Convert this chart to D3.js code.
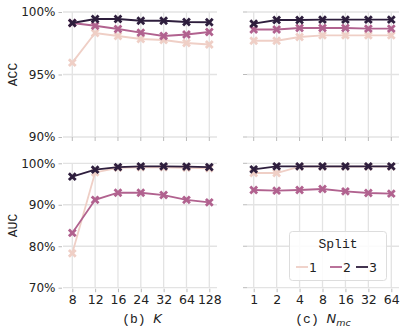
<!DOCTYPE html>
<html><head><meta charset="utf-8">
<script src="https://cdn.jsdelivr.net/npm/d3@7"></script>
<style>body{margin:0;background:#fff}svg{display:block}</style>
</head><body><svg id="c" width="407" height="335"></svg>
<script>
const kTicks = ["8","12","16","24","32","64","128"];
const nTicks = ["1","2","4","8","16","32","64"];
const splits = ["1","2","3"];
const colors = ["#efcfc6","#b1628f","#2e1e3d"];
// ACC vs K
const accK1 = [95.95, 98.32, 98.08, 97.84, 97.76, 97.52, 97.4];
const accK2 = [99.12, 98.9, 98.64, 98.35, 98.08, 98.2, 98.4];
const accK3 = [99.12, 99.44, 99.44, 99.3, 99.3, 99.2, 99.18];
// ACC vs Nmc
const accN1 = [97.7, 97.7, 98.0, 98.13, 98.13, 98.13, 98.13];
const accN2 = [98.6, 98.6, 98.72, 98.72, 98.72, 98.67, 98.67];
const accN3 = [99.07, 99.36, 99.36, 99.39, 99.39, 99.39, 99.39];
// AUC vs K
const aucK1 = [78.3, 97.8, 98.9, 99.0, 99.0, 98.9, 98.8];
const aucK2 = [83.2, 91.2, 92.9, 92.9, 92.35, 91.2, 90.6];
const aucK3 = [96.77, 98.46, 99.1, 99.27, 99.27, 99.2, 99.1];
// AUC vs Nmc
const aucN1 = [97.66, 97.66, 99.2, 99.2, 99.2, 99.2, 99.2];
const aucN2 = [93.56, 93.4, 93.56, 93.8, 93.24, 92.84, 92.67];
const aucN3 = [98.55, 99.27, 99.27, 99.27, 99.27, 99.27, 99.27];
const accTicks = [90, 95, 100];
const aucTicks = [70, 80, 90, 100];

const svg = d3.select("#c");
const sans = "DejaVu Sans, sans-serif";
const mono = "Liberation Mono, monospace";
const grid = "#e3e3e3";

const cols = [
  {x0: 63, x1: 217, p0: 72.3, p1: 209.3, ticks: kTicks},
  {x0: 247, x1: 399, p0: 253.7, p1: 391.3, ticks: nTicks}
];
const rows = [
  {y0: 12, y1: 137, dom: [90, 100], ticks: accTicks, label: "ACC", data: [[accK1,accK2,accK3],[accN1,accN2,accN3]]},
  {y0: 163.3, y1: 287.7, dom: [70, 100], ticks: aucTicks, label: "AUC", data: [[aucK1,aucK2,aucK3],[aucN1,aucN2,aucN3]]}
];

const xMark = "M-4.4,-2.4L-2.4,-4.4L0,-2L2.4,-4.4L4.4,-2.4L2,0L4.4,2.4L2.4,4.4L0,2L-2.4,4.4L-4.4,2.4L-2,0Z";

rows.forEach((r, ri) => {
  const y = d3.scaleLinear().domain(r.dom).range([r.y1, r.y0]);
  cols.forEach((c, ci) => {
    const x = d3.scalePoint().domain(c.ticks).range([c.p0, c.p1]);
    const g = svg.append("g");
    g.selectAll(".hg").data(r.ticks).join("line")
      .attr("x1", c.x0).attr("x2", c.x1)
      .attr("y1", d => y(d)).attr("y2", d => y(d))
      .attr("stroke", grid).attr("stroke-width", 1.3);
    g.selectAll(".vg").data(c.ticks).join("line")
      .attr("x1", d => x(d)).attr("x2", d => x(d))
      .attr("y1", r.y0).attr("y2", r.y1)
      .attr("stroke", grid).attr("stroke-width", 1.3);
    if (ci === 0) {
      const ya = d3.axisLeft(y).tickValues(r.ticks).tickFormat(d => d + "%").tickSize(3.5).tickPadding(3);
      const ag = svg.append("g").attr("transform", `translate(${c.x0 - 1},0)`).call(ya);
      ag.select(".domain").remove();
      ag.selectAll("line").attr("stroke", "#bbb");
      ag.selectAll("text").attr("font-family", sans).attr("font-size", 12).attr("fill", "#222");
    } else {
      g.selectAll(".yt").data(r.ticks).join("line")
        .attr("x1", c.x0 - 4).attr("x2", c.x0)
        .attr("y1", d => y(d)).attr("y2", d => y(d))
        .attr("stroke", "#bbb");
    }
    if (ri === 1) {
      const xa = d3.axisBottom(x).tickSize(3.5).tickPadding(3);
      const ag = svg.append("g").attr("transform", `translate(0,${r.y1 + 1})`).call(xa);
      ag.select(".domain").remove();
      ag.selectAll("line").attr("stroke", "#bbb");
      ag.selectAll("text").attr("font-family", sans).attr("font-size", 12.5).attr("fill", "#222");
    } else {
      g.selectAll(".xt").data(c.ticks).join("line")
        .attr("x1", d => x(d)).attr("x2", d => x(d))
        .attr("y1", r.y1).attr("y2", r.y1 + 4)
        .attr("stroke", "#bbb");
    }
    const line = d3.line().x((d, i) => x(c.ticks[i])).y(d => y(d));
    r.data[ci].forEach((vals, si) => {
      g.append("path").datum(vals).attr("d", line)
        .attr("fill", "none").attr("stroke", colors[si]).attr("stroke-width", 1.8);
      g.selectAll(".m" + si).data(vals).join("path")
        .attr("d", xMark)
        .attr("transform", (d, i) => `translate(${x(c.ticks[i])},${y(d)})`)
        .attr("fill", colors[si]);
    });
  });
  svg.append("text").attr("transform", `translate(17,${(r.y0 + r.y1) / 2}) rotate(-90)`)
    .attr("text-anchor", "middle").attr("font-family", mono).attr("font-size", 13)
    .attr("fill", "#222").text(r.label);
});

function xlabel(cx, pre, main, sub) {
  const t = svg.append("text").attr("x", cx).attr("y", 323).attr("text-anchor", "middle")
    .attr("fill", "#222").attr("font-size", 13);
  t.append("tspan").attr("font-family", mono).text(pre + " ");
  t.append("tspan").attr("font-family", sans).attr("font-style", "italic").text(main);
  if (sub) t.append("tspan").attr("font-family", sans).attr("font-style", "italic")
    .attr("font-size", 9.5).attr("dy", 2.5).text(sub);
}
xlabel(142, "(b)", "K", null);
xlabel(323, "(c)", "N", "mc");

const lg = svg.append("g");
lg.append("rect").attr("x", 289.5).attr("y", 231.5).attr("width", 97).attr("height", 49)
  .attr("rx", 3).attr("fill", "rgba(255,255,255,0.85)").attr("stroke", "#ddd");
lg.append("text").attr("x", 338).attr("y", 248).attr("text-anchor", "middle")
  .attr("font-family", mono).attr("font-size", 13).attr("fill", "#222").text("Split");
const lx = [296, 330, 356];
splits.forEach((s, i) => {
  lg.append("line").attr("x1", lx[i]).attr("x2", lx[i] + 12).attr("y1", 267).attr("y2", 267)
    .attr("stroke", colors[i]).attr("stroke-width", 1.8);
  lg.append("text").attr("x", lx[i] + 13).attr("y", 271.5).attr("font-family", sans)
    .attr("font-size", 12.5).attr("fill", "#222").text(s);
});
</script></body></html>
